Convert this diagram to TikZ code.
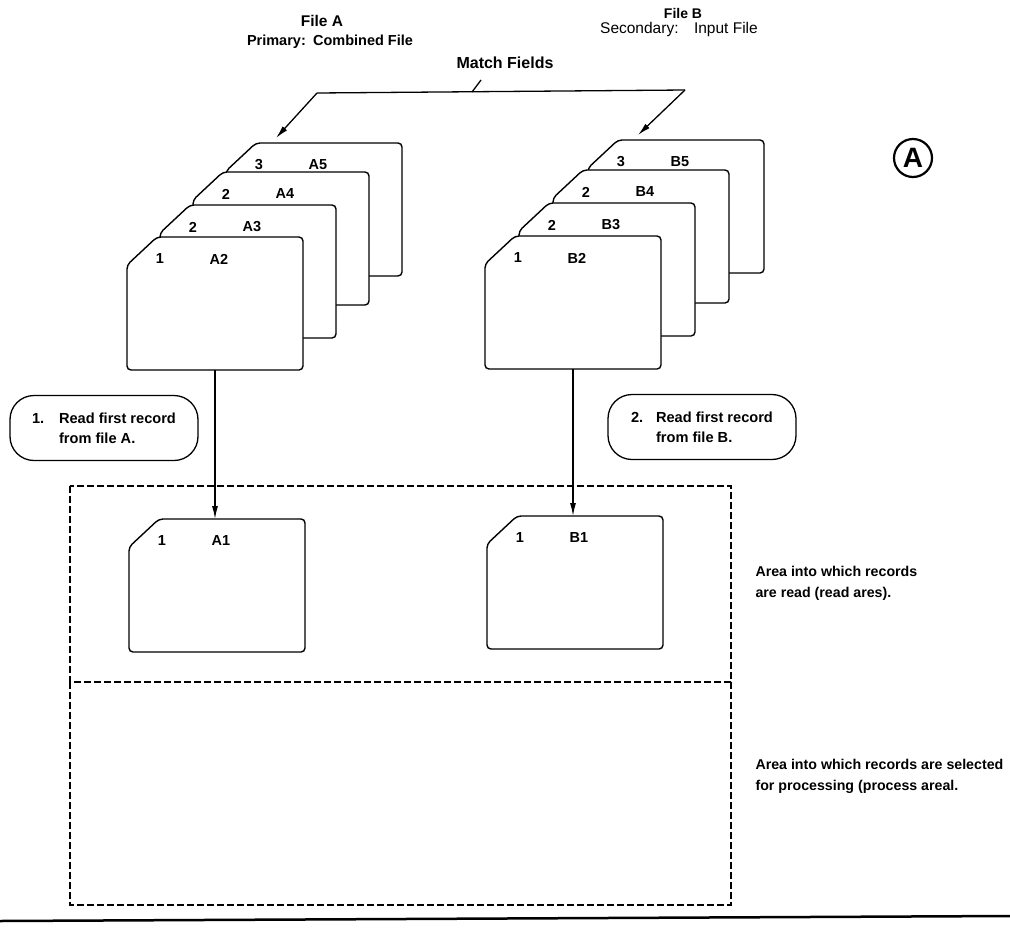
\documentclass[tikz,border=0pt]{standalone}
\usepackage{fontspec}
\setmainfont{Liberation Sans}
\usetikzlibrary{arrows.meta,calc,positioning}

% one punched record: name, top left corner, sequence number, key
\newcommand{\recordcard}[5]{%
  \draw[card] (#2,#3+28) -- (#2+30,#3) -- (#2+176,#3) -- (#2+176,#3+133) -- (#2,#3+133) -- cycle;
  \node[cardtext] (#1seq) at (#2+33,#3+22) {#4};
  \node[cardtext] (#1key) at (#2+92,#3+22) {#5};
  \coordinate (#1top) at (#2+88,#3);
  \coordinate (#1bot) at (#2+88,#3+133);
  \coordinate (#1in) at (#2+50,#3-5);
}

\begin{document}
\begin{tikzpicture}[x=1pt, y=-1pt,
  card/.style={draw, fill=white, line width=1.4pt, rounded corners=4pt},
  cardtext/.style={font=\bfseries\fontsize{14.5}{16}\selectfont},
  headtext/.style={font=\bfseries\fontsize{14.5}{16}\selectfont},
  notetext/.style={font=\bfseries\fontsize{14.2}{21}\selectfont, align=left, anchor=west},
  callout/.style={draw, line width=1.3pt, rounded corners=24pt, minimum width=188pt,
    minimum height=65pt, align=left, font=\bfseries\fontsize{14.6}{20}\selectfont},
  feed/.style={line width=1.3pt, -{Latex[length=13pt,width=6pt]}},
  areabox/.style={line width=1.8pt, dash pattern=on 7pt off 3pt}]
\useasboundingbox (0,0) rectangle (1010,927);

% file headings
\node[headtext, font=\bfseries\fontsize{15.5}{16}\selectfont] (fileA) at (322,21) {File A};
\node[headtext] (roleA) at (330,42) {Primary:\enspace Combined File};
\node[headtext, font=\bfseries\fontsize{14}{14}\selectfont] (fileB) at (683,13) {File B};
\node[font=\fontsize{15.5}{16}\selectfont] (roleB) at (679,29) {Secondary:\quad Input File};

% match fields bracket
\node[headtext, font=\bfseries\fontsize{16}{18}\selectfont] (match) at (505,63) {Match Fields};
\coordinate (bracketL) at (317,93);
\coordinate (bracketR) at (685,90);
\coordinate (tick) at (472,92);
\draw[line width=1.3pt] (bracketL) -- (bracketR);
\draw[line width=1.3pt] (tick) -- ++(9,-12);

% file A deck, back to front
\recordcard{A5}{226}{143}{3}{A5}
\recordcard{A4}{193}{172}{2}{A4}
\recordcard{A3}{160}{205}{2}{A3}
\recordcard{A2}{127}{237}{1}{A2}

% file B deck, back to front
\recordcard{B5}{588}{140}{3}{B5}
\recordcard{B4}{553}{170}{2}{B4}
\recordcard{B3}{519}{203}{2}{B3}
\recordcard{B2}{485}{236}{1}{B2}

\draw[feed] (bracketL) -- (A5in);
\draw[feed] (bracketR) -- (B5in);

% marker
\node[draw, circle, line width=2.2pt, minimum size=38pt, inner sep=0pt,
  font=\bfseries\fontsize{28}{28}\selectfont] (marker) at (913,158) {A};

% steps
\node[callout] (stepA) at (104,428) {\makebox[27pt][l]{1.}Read first record\\\hspace*{27pt}from file A.};
\node[callout] (stepB) at (702,427) {\makebox[25pt][l]{2.}Read first record\\\hspace*{25pt}from file B.};

% read area and process area
\coordinate (readNW) at (70,486);
\coordinate (readSE) at (731,682);
\coordinate (procSE) at (731,905);
\draw[areabox] (readNW) rectangle (readSE);
\draw[areabox] (readNW |- readSE) -- (readNW |- procSE) -- (procSE) -- (readSE);

\recordcard{A1}{129}{519}{1}{A1}
\recordcard{B1}{487}{516}{1}{B1}

\draw[feed] (A2bot) -- (A2bot |- A1top);
\draw[feed] (B2bot) -- (B2bot |- B1top);

\node[notetext] (readnote) at (752,583) {Area into which records\\are read (read ares).};
\node[notetext] (procnote) at (752,776) {Area into which records are selected\\for processing (process areal.};

% page rule
\coordinate (ruleL) at (0,921);
\coordinate (ruleR) at (1010,916);
\draw[line width=2.5pt] (ruleL) -- (ruleR);
\end{tikzpicture}
\end{document}
